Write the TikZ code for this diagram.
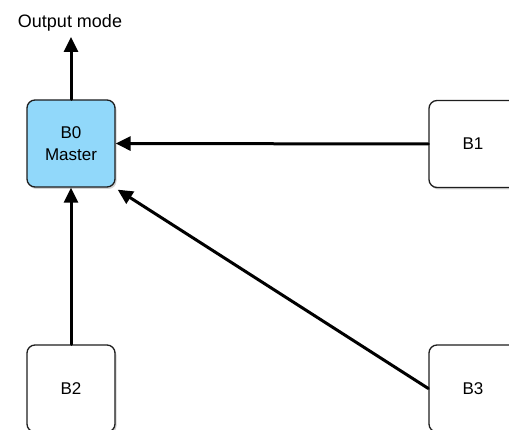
\documentclass[tikz,border=0pt]{standalone}
\usepackage{fontspec}
\setmainfont{Liberation Sans}
\usetikzlibrary{arrows.meta,shadows}
\definecolor{masterfill}{RGB}{145,216,250}
\definecolor{boxedge}   {RGB}{ 30, 30, 30}
\definecolor{linkcol}   {RGB}{  0,  0,  0}

\begin{document}
\begin{tikzpicture}[
  % one unit = one pixel of the 509x430 sketch, y pointing down
  x=1pt,y=-1pt,
  >={Triangle[length=15pt,width=14pt]},
  line cap=round,line join=round,
  board/.style={draw=boxedge,line width=1.3pt,fill=white,rounded corners=8pt,
    minimum width=88pt,minimum height=87pt,font=\fontsize{17}{22}\selectfont,
    align=center,drop shadow={shadow xshift=1.5pt,shadow yshift=-2pt,opacity=0.35}},
  link/.style={linkcol,line width=3pt,->}
]

% ---- frame ---------------------------------------------------------------
\useasboundingbox (0,0) rectangle (509,430);
\clip (0,0) rectangle (509,430);

% ---- boards --------------------------------------------------------------
\node[board,fill=masterfill] (b0) at (71,143.5) {B0\\Master};
\node[board] (b1) at (473,144) {B1};
\node[board] (b2) at (71,388.5) {B2};
\node[board] (b3) at (473,388.5) {B3};

% ---- output --------------------------------------------------------------
\node[font=\fontsize{18}{20}\selectfont,inner sep=0pt,anchor=center] (outlbl) at (70,23) {Output mode};
\coordinate (outend) at (71,37);

% ---- links ---------------------------------------------------------------
\draw[link] (b0.north) -- (outend);
\draw[link] (b1.west) -- (b0.east);
\draw[link] (b2.north) -- (b0.south);
\draw[link] (b3.west) -- ([shift={(2,2)}]b0.south east);

\end{tikzpicture}
\end{document}
